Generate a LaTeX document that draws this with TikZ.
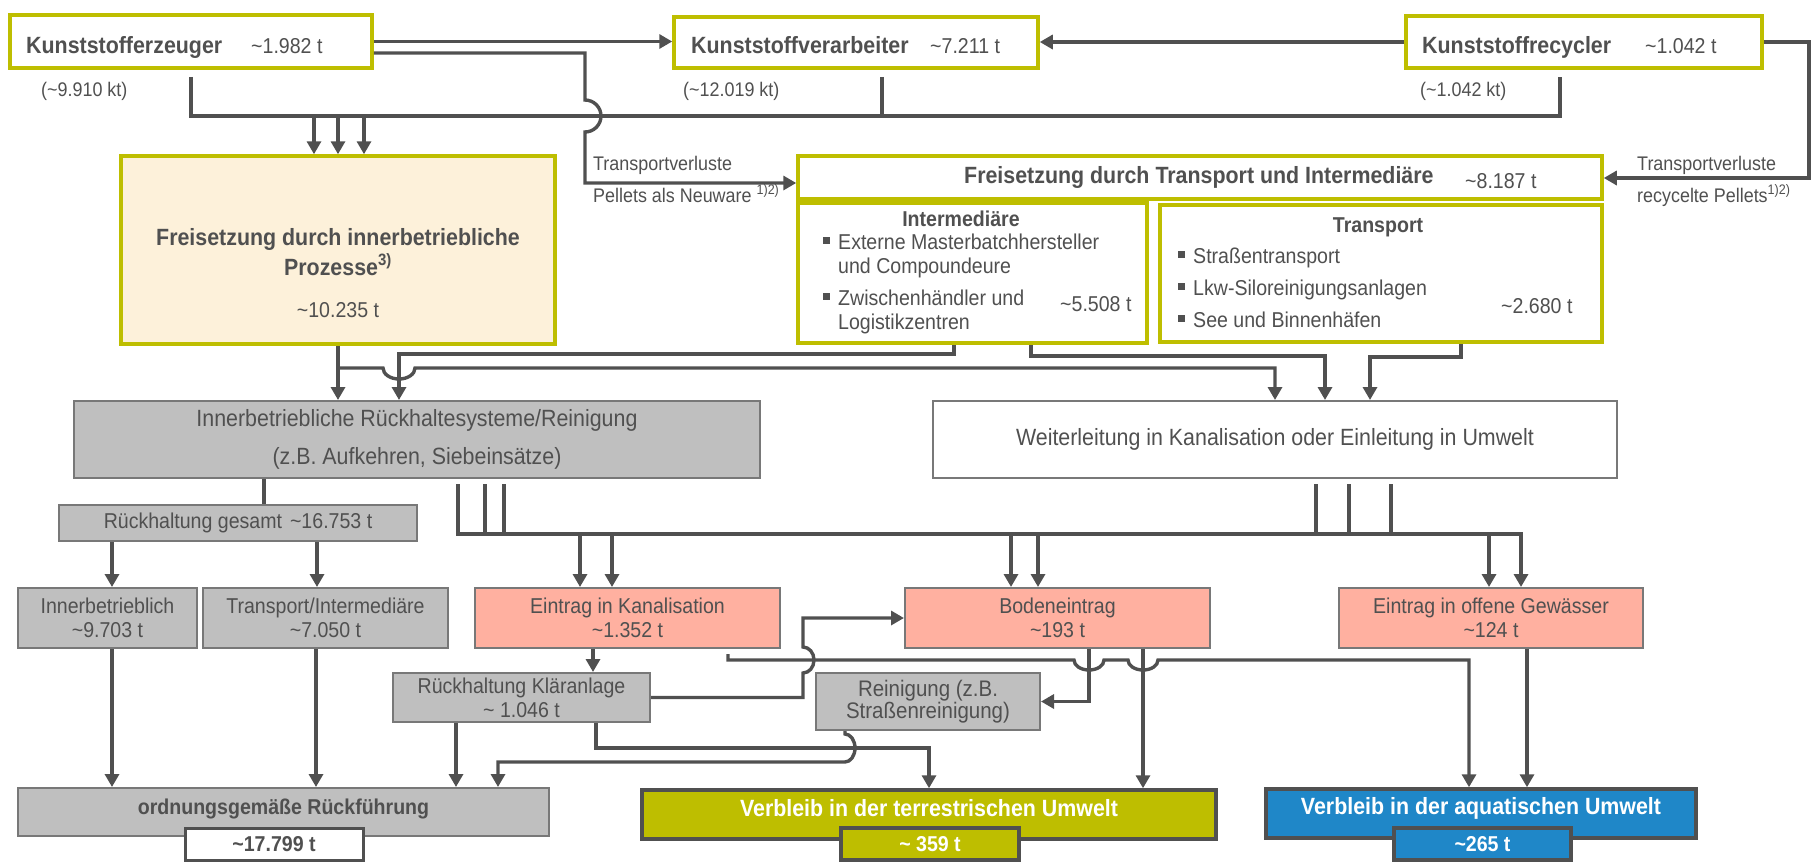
\documentclass[tikz,border=0pt]{standalone}
\usepackage{fontspec}
\setmainfont[FakeStretch=0.91]{Liberation Sans}
\usepackage{xcolor}
\usepackage{tikz}
\usetikzlibrary{positioning,arrows.meta,calc}

\definecolor{olivebar}{RGB}{190,190,0}
\definecolor{cream}{RGB}{253,241,218}
\definecolor{boxgray}{RGB}{191,191,191}
\definecolor{framegray}{RGB}{120,120,120}
\definecolor{salmon}{RGB}{255,176,160}
\definecolor{aquablue}{RGB}{31,135,200}
\definecolor{linegray}{RGB}{80,80,80}
\definecolor{txtgray}{RGB}{80,80,80}

\newcommand{\fbig}{\fontsize{23.5}{27}\selectfont}
\newcommand{\fmid}{\fontsize{21.5}{24}\selectfont}
\newcommand{\fsm}{\fontsize{19.7}{23}\selectfont}
\newcommand{\apx}{\textasciitilde}
\newcommand{\sqb}{\makebox[15pt][l]{\rule[5.5pt]{6.5pt}{6.5pt}}}

\tikzset{
  pipe/.style={draw=linegray, line width=3.4pt},
  flow/.style={pipe, -{Triangle[length=13pt,width=14pt]}},
  srcbox/.style={draw=olivebar, line width=3.5pt, fill=white},
  graybox/.style={draw=framegray, line width=2pt, fill=boxgray, text=txtgray, align=center, font=\fmid},
  entrybox/.style={graybox, fill=salmon},
  sinkbox/.style={draw=linegray, line width=3.5pt},
  txt/.style={inner sep=0pt, text=txtgray},
}

\begin{document}
\begin{tikzpicture}[x=1pt, y=-1pt, font=\fbig]
\useasboundingbox (0,0) rectangle (1812,865);

% TOP ROW: producers, processors, recyclers
\node[srcbox, minimum width=362pt, minimum height=53pt] (erz) at (191,41.5) {};
\node[txt, anchor=base west, font=\fbig\bfseries] (erzT) at (26,53) {Kunststofferzeuger};
\node[txt, anchor=base west, font=\fmid] (erzV) at (251,53) {\apx1.982 t};
\node[txt, anchor=base west, font=\fsm] (erzK) at (41,96) {(\apx9.910 kt)};

\node[srcbox, minimum width=364pt, minimum height=51pt] (verarb) at (856,42.5) {};
\node[txt, anchor=base west, font=\fbig\bfseries] (verT) at (691,53) {Kunststoffverarbeiter};
\node[txt, anchor=base west, font=\fmid] (verV) at (930,53) {\apx7.211 t};
\node[txt, anchor=base west, font=\fsm] (verK) at (683,96) {(\apx12.019 kt)};

\node[srcbox, minimum width=356pt, minimum height=52pt] (recyc) at (1584,42) {};
\node[txt, anchor=base west, font=\fbig\bfseries] (recT) at (1422,53) {Kunststoffrecycler};
\node[txt, anchor=base west, font=\fmid] (recV) at (1645,53) {\apx1.042 t};
\node[txt, anchor=base west, font=\fsm] (recK) at (1420,96) {(\apx1.042 kt)};

% RELEASE: in-house processes
\node[srcbox, fill=cream, minimum width=434pt, minimum height=188pt] (inner) at (338,250) {};
\node[txt, anchor=base, font={\fontsize{23.5}{30}\selectfont\bfseries}] (innerT) at (338,245)
    {\begin{tabular}[t]{@{}c@{}}Freisetzung durch innerbetriebliche\\Prozesse\textsuperscript{3)}\end{tabular}};
\node[txt, anchor=base, font=\fmid] (innerV) at (338,317) {\apx10.235 t};

% RELEASE: transport and intermediaries
\node[srcbox, minimum width=804pt, minimum height=43pt] (transrel) at (1200,177.5) {};
\node[txt, anchor=base west, font=\fbig\bfseries] (transrelT) at (964,183) {Freisetzung durch Transport und Intermediäre};
\node[txt, anchor=base west, font=\fmid] (transrelV) at (1465,188) {\apx8.187 t};

\node[srcbox, minimum width=349pt, minimum height=140pt] (interm) at (972.5,273) {};
\node[txt, anchor=base, font=\fmid\bfseries] (intermT) at (961,226) {Intermediäre};
\node[txt, anchor=base west, font=\fmid] (intermL) at (823,249)
    {\begin{tabular}[t]{@{}l@{}l@{}}\sqb & Externe Masterbatchhersteller\\ & und Compoundeure\\[8pt]
     \sqb & Zwischenhändler und\\ & Logistikzentren\end{tabular}};
\node[txt, anchor=base west, font=\fmid] (intermV) at (1060,311) {\apx5.508 t};

\node[srcbox, minimum width=442pt, minimum height=137pt] (transp) at (1381,273.5) {};
\node[txt, anchor=base, font=\fmid\bfseries] (transpT) at (1378,232) {Transport};
\node[txt, anchor=base west, font=\fmid] (transpL) at (1178,263)
    {\begin{tabular}[t]{@{}l@{}l@{}}\sqb & Straßentransport\\[8pt] \sqb & Lkw-Siloreinigungsanlagen\\[8pt]
     \sqb & See und Binnenhäfen\end{tabular}};
\node[txt, anchor=base west, font=\fmid] (transpV) at (1501,313) {\apx2.680 t};

% Transport loss labels
\node[txt, anchor=base west, font=\fsm] (lossNew) at (593,170) {Transportverluste};
\node[txt, anchor=base west, font=\fsm] (lossNewB) at (593,202) {Pellets als Neuware \textsuperscript{1)2)}};
\node[txt, anchor=base west, font=\fsm] (lossRec) at (1637,170) {Transportverluste};
\node[txt, anchor=base west, font=\fsm] (lossRecB) at (1637,202) {recycelte Pellets\textsuperscript{1)2)}};

% RETENTION and DISCHARGE
\node[graybox, font=\fbig, minimum width=686pt, minimum height=77pt] (rueck) at (417,439.5)
    {Innerbetriebliche Rückhaltesysteme/Reinigung\\[11pt](z.B. Aufkehren, Siebeinsätze)};
\node[graybox, fill=white, font=\fbig, minimum width=684pt, minimum height=77pt] (weiter) at (1275,439.5)
    {Weiterleitung in Kanalisation oder Einleitung in Umwelt};

\node[graybox, minimum width=358pt, minimum height=36pt] (gesamt) at (238,523) {Rückhaltung gesamt\hspace{8pt}\apx16.753 t};
\node[graybox, minimum width=179pt, minimum height=60pt] (ib) at (107.5,618) {Innerbetrieblich\\\apx9.703 t};
\node[graybox, minimum width=245pt, minimum height=60pt] (ti) at (325.5,618) {Transport/Intermediäre\\\apx7.050 t};
\node[entrybox, minimum width=305pt, minimum height=60pt] (kanal) at (627.5,618) {Eintrag in Kanalisation\\\apx1.352 t};
\node[entrybox, minimum width=305pt, minimum height=60pt] (boden) at (1057.5,618) {Bodeneintrag\\\apx193 t};
\node[entrybox, minimum width=304pt, minimum height=60pt] (gew) at (1491,618) {Eintrag in offene Gewässer\\\apx124 t};
\node[graybox, minimum width=257pt, minimum height=49pt] (klaer) at (521.5,697.5) {Rückhaltung Kläranlage\\\apx{} 1.046 t};
\node[graybox, font={\fontsize{22.5}{20.5}\selectfont}, minimum width=224pt, minimum height=57pt] (rein) at (928,701.5)
    {Reinigung (z.B.\\Straßenreinigung)};

% SINKS
\node[graybox, minimum width=531pt, minimum height=48pt] (ord) at (283.5,812) {};
\node[txt, font=\fmid\bfseries] (ordT) at (283.5,809) {ordnungsgemäße Rückführung};
\node[sinkbox, line width=3pt, fill=white, text=txtgray, font=\fmid\bfseries, minimum width=178pt, minimum height=32pt] (ordV) at (274,844) {\apx17.799 t};

\node[sinkbox, fill=olivebar, minimum width=574pt, minimum height=49pt] (terr) at (929,814.5) {};
\node[txt, text=white, font=\fbig\bfseries] (terrT) at (929,808) {Verbleib in der terrestrischen Umwelt};
\node[sinkbox, fill=olivebar, text=white, font=\fmid\bfseries, minimum width=178pt, minimum height=32pt] (terrV) at (930,844) {\apx{} 359 t};

\node[sinkbox, fill=aquablue, minimum width=430pt, minimum height=49pt] (aqua) at (1481,813.5) {};
\node[txt, text=white, font=\fbig\bfseries] (aquaT) at (1481,808) {Verbleib in der aquatischen Umwelt};
\node[sinkbox, fill=aquablue, text=white, font=\fmid\bfseries, minimum width=177pt, minimum height=32pt] (aquaV) at (1482.5,844) {\apx265 t};

% top connections
\coordinate (busTop) at (0,116);
\draw[flow] (erz.east) -- (erz.east -| verarb.west);
\draw[flow] (recyc.west) -- (recyc.west -| verarb.east);
\draw[flow] (erz.east |- 0,53) -- (585,53) -- (585,100) arc[start angle=90, end angle=-90, radius=16pt] -- (585,183) -- (transrel.west |- 0,183);
\draw[flow] (recyc.east) -| (1809,178) -- (transrel.east |- 0,178);
\draw[pipe] ($(erz.south)+(0,7)$) |- (1560,0 |- busTop) -- ($(1560,0 |- recyc.south)+(0,7)$);
\draw[pipe] ($(882,0 |- verarb.south)+(0,7)$) -- (882,0 |- busTop);
\foreach \xx in {314,338,364}
    \draw[flow] (\xx,0 |- busTop) -- (\xx,0 |- inner.north);

% releases into retention / discharge
\draw[flow] (inner.south) -- (inner.south |- rueck.north);
\draw[flow] (inner.south |- 0,368) -- (383,368) arc[start angle=180, end angle=360, x radius=16pt, y radius=11pt] -| (weiter.north);
\draw[flow] (954,0 |- interm.south) |- (399,354) -- (399,0 |- rueck.north);
\draw[flow] (1031,0 |- interm.south) |- (1325,356) -- (1325,0 |- weiter.north);
\draw[flow] (1461,0 |- transp.south) |- (1370,357) -- (1370,0 |- weiter.north);

% distribution bus
\coordinate (busMid) at (0,534);
\draw[pipe] (264,0 |- rueck.south) -- (264,0 |- gesamt.north);
\draw[flow] ($(458,0 |- rueck.south)+(0,5)$) |- (1521,0 |- busMid) -- (1521,0 |- gew.north);
\foreach \xx in {485,504}
    \draw[pipe] ($(\xx,0 |- rueck.south)+(0,5)$) -- (\xx,0 |- busMid);
\foreach \xx in {1316,1349,1391}
    \draw[pipe] ($(\xx,0 |- weiter.south)+(0,5)$) -- (\xx,0 |- busMid);
\foreach \xx in {580,612}
    \draw[flow] (\xx,0 |- busMid) -- (\xx,0 |- kanal.north);
\foreach \xx in {1011,1038}
    \draw[flow] (\xx,0 |- busMid) -- (\xx,0 |- boden.north);
\draw[flow] (1489,0 |- busMid) -- (1489,0 |- gew.north);

% retention split and final sinks
\draw[flow] (112,0 |- gesamt.south) -- (112,0 |- ib.north);
\draw[flow] (317,0 |- gesamt.south) -- (317,0 |- ti.north);
\draw[flow] (112,0 |- ib.south) -- (112,0 |- ord.north);
\draw[flow] (316,0 |- ti.south) -- (316,0 |- ord.north);
\draw[flow] (593,0 |- kanal.south) -- (593,0 |- klaer.north);
\draw[flow] (456,0 |- klaer.south) -- (456,0 |- ord.north);
\draw[flow] (klaer.east) -- (803,697.5) -- (803,673) arc[start angle=-90, end angle=90, x radius=11pt, y radius=13pt] |- (boden.west);
\draw[flow] ($(728,0 |- kanal.south)+(0,5)$) -- (728,660) -- (1074,660)
    arc[start angle=180, end angle=360, x radius=15pt, y radius=10pt] -- (1128,660)
    arc[start angle=180, end angle=360, x radius=15pt, y radius=10pt] -| (1469,0 |- aqua.north);
\draw[flow] (1089,0 |- boden.south) |- (rein.east);
\draw[flow] (1143,0 |- boden.south) -- (1143,0 |- terr.north);
\draw[flow] (1527,0 |- gew.south) -- (1527,0 |- aqua.north);
\draw[flow] (596,0 |- klaer.south) |- (terr.north |- 0,748) -- (terr.north);
\draw[flow] (845,0 |- rein.south) -- (845,734) arc[start angle=90, end angle=-90, x radius=10pt, y radius=14pt] -| (498,0 |- ord.north);

\end{tikzpicture}
\end{document}
